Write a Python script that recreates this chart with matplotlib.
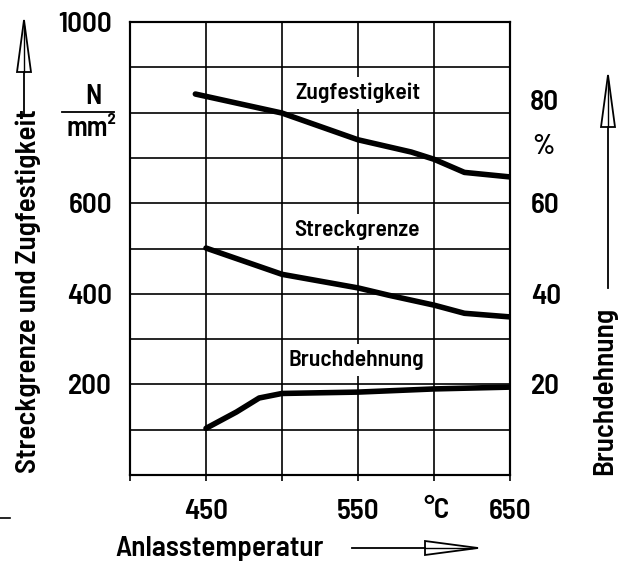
import numpy as np
import matplotlib
matplotlib.use('Agg')
import matplotlib.pyplot as plt
from matplotlib.patches import Polygon
from matplotlib.lines import Line2D

plt.rcParams['font.family'] = ['Barlow Semi Condensed', 'DejaVu Sans']
plt.rcParams['font.weight'] = 600

# Daten
temp_zug = [443, 500, 550, 585, 600, 620, 650]
zugfestigkeit = [841, 799, 740, 713, 697, 668, 658]          # N/mm²
temp_streck = [450, 500, 550, 570, 600, 620, 650]
streckgrenze = [501, 443, 413, 397, 375, 357, 349]           # N/mm²
temp_bruch = [450, 470, 485, 500, 550, 600, 650]
bruchdehnung = [10.3, 13.9, 17.0, 18.0, 18.3, 19.0, 19.4]    # %

x_ticklabels = ['450', '550', '650']
left_ticklabels = ['200', '400', '600', '1000']
right_ticklabels = ['20', '40', '60']

W, H = 635, 565
fig = plt.figure(figsize=(W / 100, H / 100), dpi=100)


def px(x, y):
    # Pixel im Bild -> Figurkoordinaten
    return x / W, 1 - y / H


l, b = px(130, 475)
r, t = px(510, 22)
ax = fig.add_axes([l, b, r - l, t - b])
ax2 = ax.twinx()

ax.set_xlim(400, 650)
ax.set_ylim(0, 1000)
ax2.set_ylim(0, 100)

ax.set_xticks(np.arange(400, 651, 50))
ax.set_xticklabels(['', x_ticklabels[0], '', x_ticklabels[1], '', x_ticklabels[2]])
ax.set_yticks(np.arange(0, 1001, 100))
ylab = [''] * 11
for s in left_ticklabels:
    ylab[int(s) // 100] = s
ax.set_yticklabels(ylab)
ax2.set_yticks([20, 40, 60])
ax2.set_yticklabels(right_ticklabels)

ax.grid(True, color='black', linewidth=1.2, zorder=1)
ax.set_axisbelow(True)
for a in (ax, ax2):
    for sp in a.spines.values():
        sp.set_linewidth(1.5)
fs = 21
ax.tick_params(axis='x', length=4, width=1.2, pad=13, labelsize=fs)
ax.tick_params(axis='y', length=0, pad=13, labelsize=fs)
ax2.tick_params(axis='y', length=0, pad=15, labelsize=fs)

lw = 4
ax.plot(temp_zug, zugfestigkeit, color='black', lw=lw, solid_capstyle='round', zorder=3)
ax.plot(temp_streck, streckgrenze, color='black', lw=lw, solid_capstyle='round', zorder=3)
ax2.plot(temp_bruch, bruchdehnung, color='black', lw=lw, solid_capstyle='round', zorder=3)

box = dict(facecolor='white', edgecolor='none', pad=4)
ax.text(550, 843, 'Zugfestigkeit', ha='center', va='center', fontsize=17, bbox=box, zorder=4)
ax.text(549, 541, 'Streckgrenze', ha='center', va='center', fontsize=17, bbox=box, zorder=4)
ax.text(549, 254, 'Bruchdehnung', ha='center', va='center', fontsize=17, bbox=box, zorder=4)

# Einheiten
fig.text(*px(93, 96), 'N', ha='center', va='center', fontsize=20)
fig.text(*px(91, 129), 'mm²', ha='center', va='center', fontsize=20)
fig.add_artist(Line2D([62 / W, 114 / W], [1 - 112 / H] * 2, color='black', lw=1.3))
fig.text(*px(530, 102), '80', ha='left', va='center', fontsize=fs)
fig.text(*px(543, 146), '%', ha='center', va='center', fontsize=20)
fig.text(*px(437, 510), '°C', ha='center', va='center', fontsize=fs)

# Achsentitel
fig.text(*px(28, 291), 'Streckgrenze und Zugfestigkeit', rotation=90,
         ha='center', va='center', fontsize=fs)
fig.text(*px(605, 391), 'Bruchdehnung', rotation=90,
         ha='center', va='center', fontsize=fs)
fig.text(*px(220, 556), 'Anlasstemperatur', ha='center', va='baseline', fontsize=fs)


def hollow_arrow(x0, y0, x1, y1, head=52, half=7):
    d = np.array([x1 - x0, y1 - y0], float)
    n = d / np.hypot(*d)
    p = np.array([-n[1], n[0]])
    tip = np.array([x1, y1], float)
    base = tip - n * head
    fig.add_artist(Line2D([x0 / W, base[0] / W], [1 - y0 / H, 1 - base[1] / H],
                          color='black', lw=1.3))
    pts = [tip, base + p * half, base - p * half]
    fig.add_artist(Polygon([px(*q) for q in pts], closed=True, facecolor='white',
                           edgecolor='black', lw=1.3, transform=fig.transFigure))
    fig.add_artist(Line2D([base[0] / W, (tip[0] - n[0] * 6) / W],
                          [1 - base[1] / H, 1 - (tip[1] - n[1] * 6) / H],
                          color='black', lw=1.0))


hollow_arrow(24, 114, 24, 20)
hollow_arrow(608, 288, 608, 75)
hollow_arrow(352, 548, 478, 548, head=53, half=7)
fig.add_artist(Line2D([0, 10 / W], [1 - 518 / H] * 2, color='black', lw=1.2))

fig.savefig('out.png', dpi=100)
